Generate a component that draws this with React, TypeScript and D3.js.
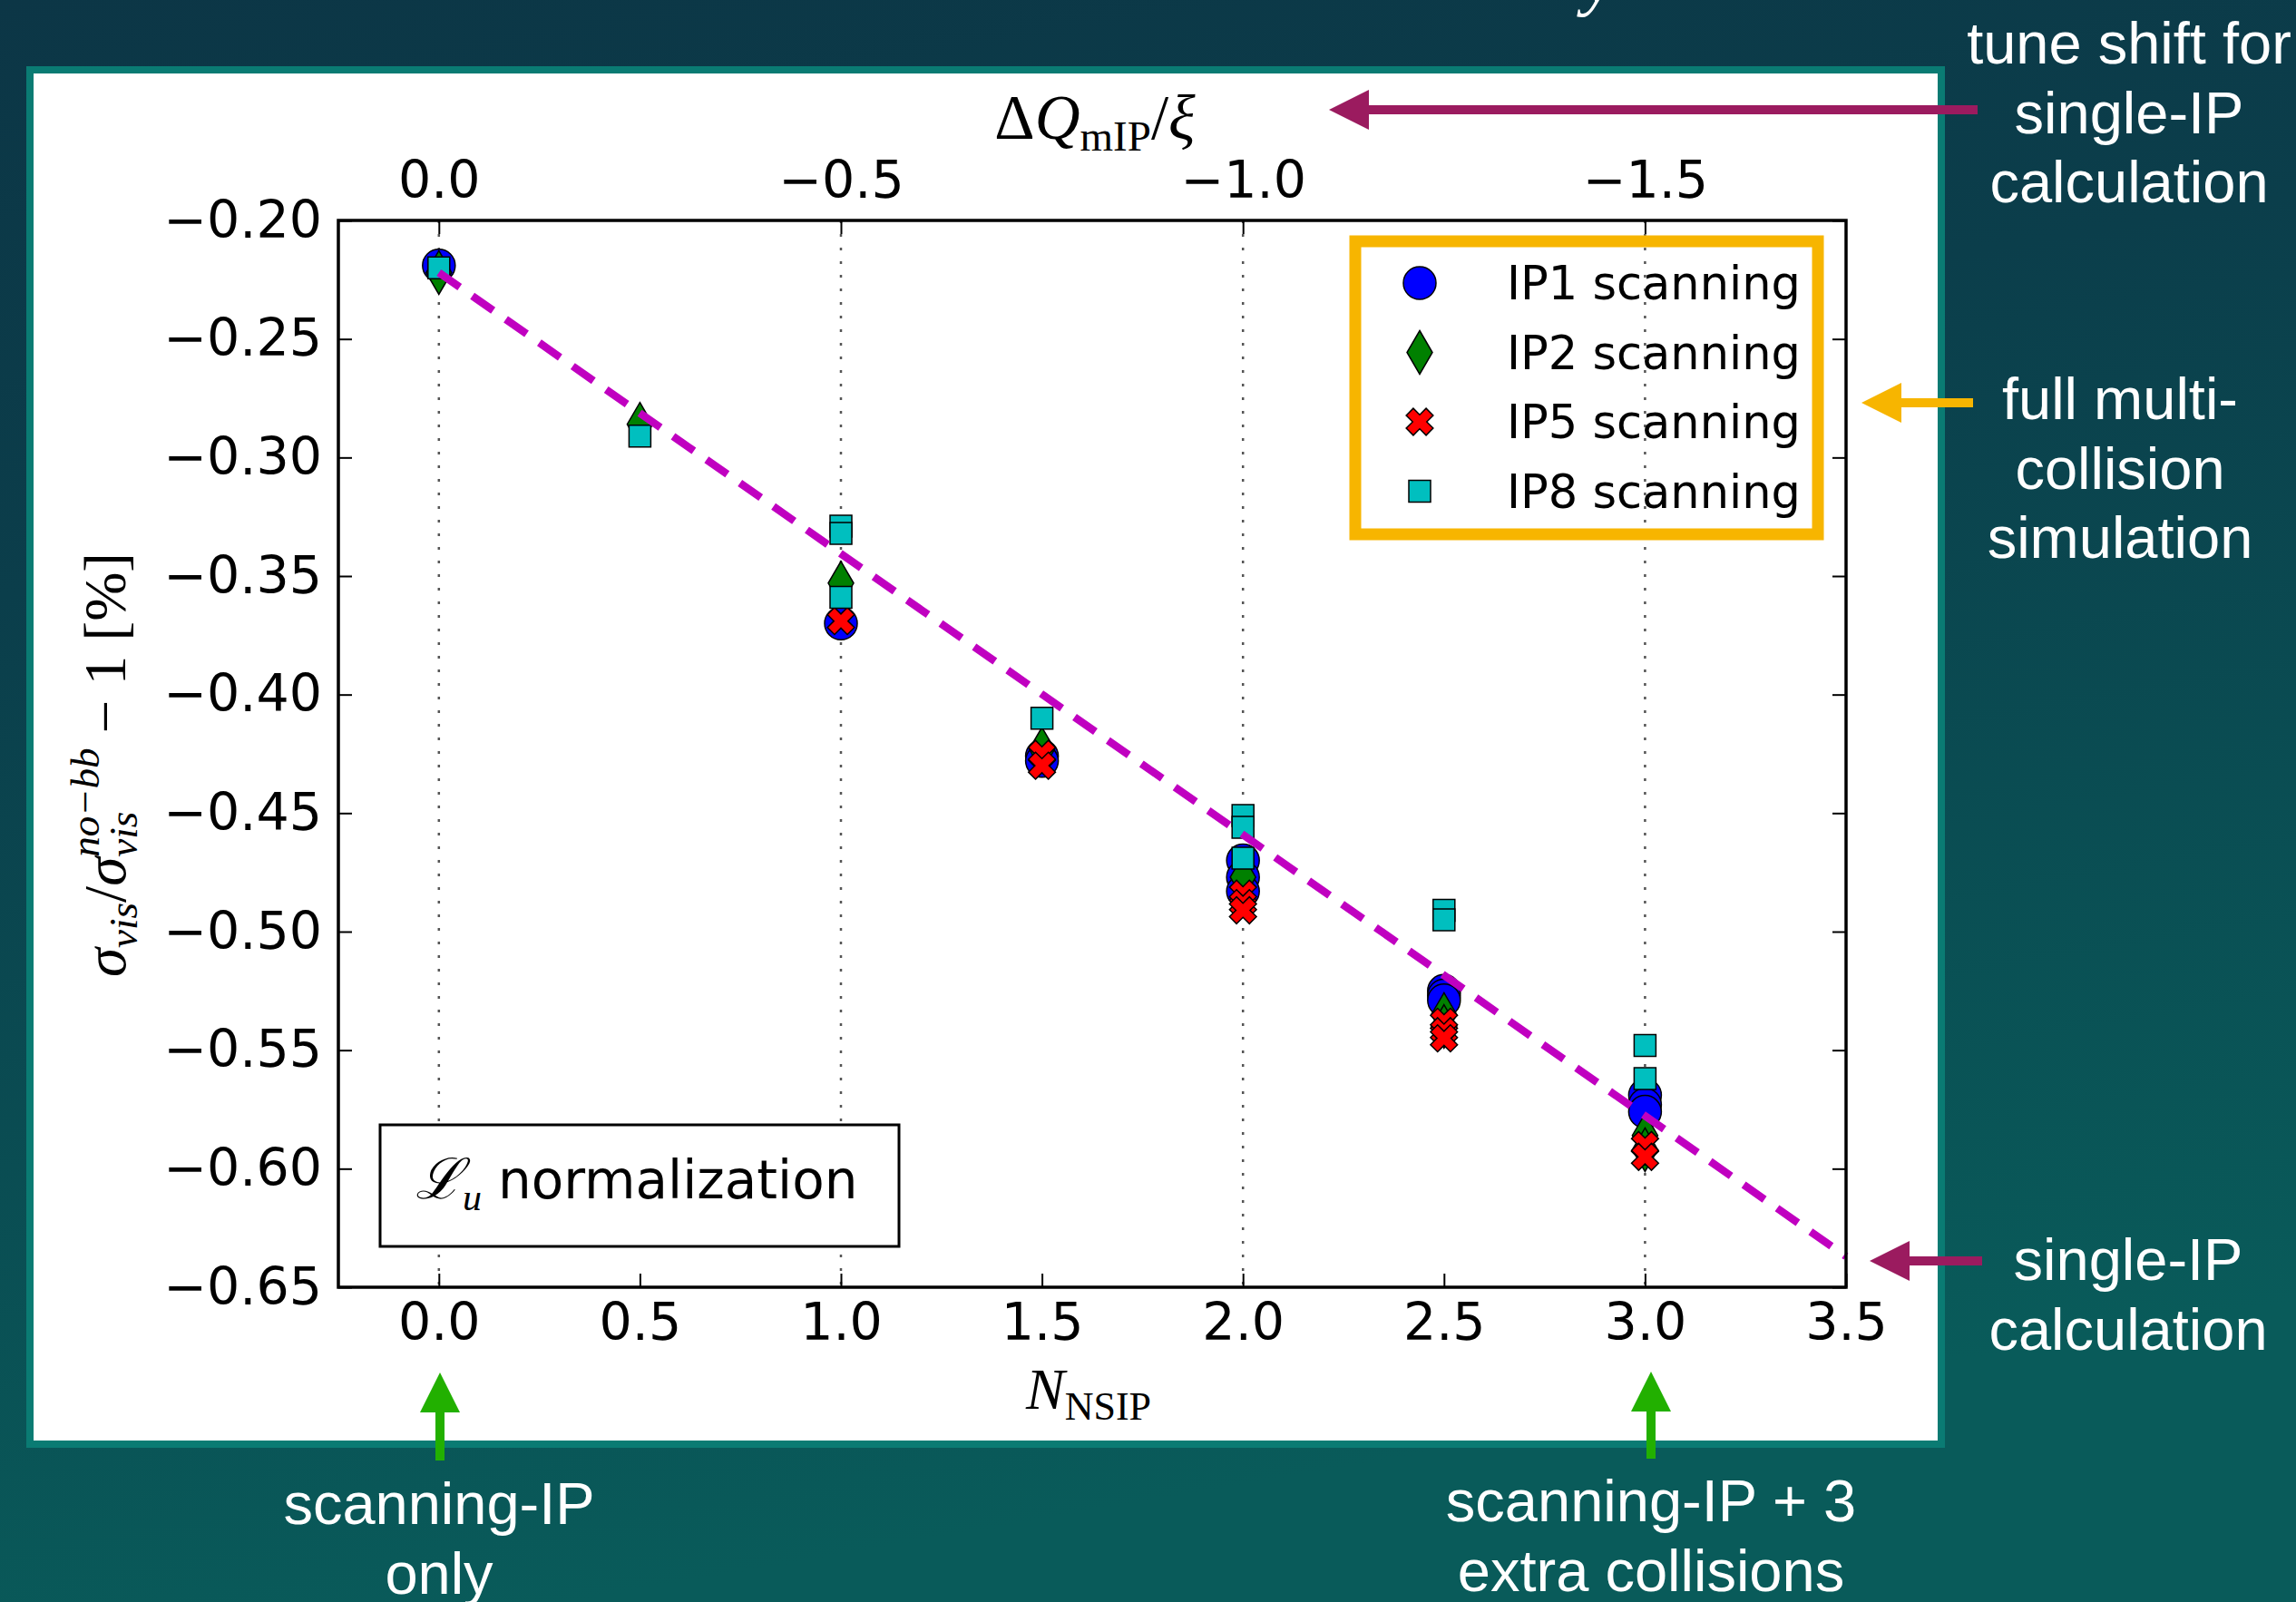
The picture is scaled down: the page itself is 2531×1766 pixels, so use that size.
import {
  axisBottom,
  axisLeft,
  axisRight,
  axisTop,
  format,
  line,
  scaleLinear,
  select,
  symbol,
  symbolCircle,
} from "d3";
import { useEffect, useRef } from "react";

const W = 2531;
const H = 1766;

// bottom axis: number of non-scanning IPs, top axis: tune shift
const nsipTicks = [0, 0.5, 1, 1.5, 2, 2.5, 3, 3.5];
const tuneTicks = [0, -0.5, -1.0, -1.5];
const yTicks = [-0.2, -0.25, -0.3, -0.35, -0.4, -0.45, -0.5, -0.55, -0.6, -0.65];

const ip1X = [0, 1, 1.5, 1.5, 2, 2, 2, 2.5, 2.5, 2.5, 3, 3, 3];
const ip1Y = [-0.219, -0.37, -0.426, -0.428, -0.47, -0.477, -0.483, -0.525, -0.527, -0.529, -0.569, -0.573, -0.576];

const ip2X = [0, 0.5, 1, 1.5, 2, 2.5, 2.5, 3, 3];
const ip2Y = [-0.222, -0.286, -0.353, -0.423, -0.477, -0.535, -0.54, -0.586, -0.592];

const ip5X = [1, 1.5, 1.5, 2, 2, 2, 2.5, 2.5, 2.5, 3, 3];
const ip5Y = [-0.369, -0.425, -0.43, -0.484, -0.488, -0.491, -0.538, -0.542, -0.545, -0.59, -0.595];

const ip8X = [0, 0.5, 1, 1, 1, 1.5, 2, 2, 2, 2.5, 2.5, 3, 3];
const ip8Y = [-0.22, -0.291, -0.329, -0.332, -0.359, -0.41, -0.451, -0.456, -0.469, -0.491, -0.495, -0.548, -0.562];

// single-IP calculation (dashed line)
const singleIpX = [0, 3.5];
const singleIpY = [-0.222, -0.637];

const seriesLabels = ["IP1 scanning", "IP2 scanning", "IP5 scanning", "IP8 scanning"];

const TICK_FONT = "'DejaVu Sans', sans-serif";
const MATH_FONT = "'Liberation Serif', 'DejaVu Serif', serif";
const NOTE_FONT = "'Liberation Sans', Arial, sans-serif";

const xPath = () => {
  const L = 15.5;
  const w = 5.5;
  const pts = [
    [w, L], [w, w], [L, w], [L, -w], [w, -w], [w, -L],
    [-w, -L], [-w, -w], [-L, -w], [-L, w], [-w, w], [-w, L],
  ];
  const c = Math.SQRT1_2;
  return (
    "M" +
    pts.map(([a, b]) => `${((a - b) * c).toFixed(2)},${((a + b) * c).toFixed(2)}`).join("L") +
    "Z"
  );
};

const markerPath = (kind: string) => {
  if (kind === "circle") return symbol(symbolCircle, Math.PI * 18 * 18)() as string;
  if (kind === "square") return "M-12,-12H12V12H-12Z";
  if (kind === "diamond") return "M0,-24L14,0L0,24L-14,0Z";
  return xPath();
};

const draw = (el: SVGGElement) => {
  const g = select(el);
  g.selectAll("*").remove();

  const x = scaleLinear().domain([-0.25, 3.5]).range([373, 2035]);
  const xTop = scaleLinear().domain([0.125, -1.75]).range([373, 2035]);
  const y = scaleLinear().domain([-0.2, -0.65]).range([243, 1419]);
  const [x0, x1] = x.range();
  const [y0, y1] = y.range();

  const series = [
    { label: seriesLabels[0], xs: ip1X, ys: ip1Y, kind: "circle", fill: "#0000ff" },
    { label: seriesLabels[1], xs: ip2X, ys: ip2Y, kind: "diamond", fill: "#008000" },
    { label: seriesLabels[2], xs: ip5X, ys: ip5Y, kind: "x", fill: "#ff0000" },
    { label: seriesLabels[3], xs: ip8X, ys: ip8Y, kind: "square", fill: "#00bfbf" },
  ];

  // vertical dotted grid from the tune shift axis
  g.append("g")
    .selectAll("line")
    .data(tuneTicks)
    .enter()
    .append("line")
    .attr("x1", (d) => xTop(d))
    .attr("x2", (d) => xTop(d))
    .attr("y1", y0)
    .attr("y2", y1)
    .attr("stroke", "#555")
    .attr("stroke-width", 2.5)
    .attr("stroke-dasharray", "3 12");

  // markers
  series.forEach((s) => {
    g.append("g")
      .selectAll("path")
      .data(s.xs.map((v, i) => [v, s.ys[i]]))
      .enter()
      .append("path")
      .attr("d", markerPath(s.kind))
      .attr("transform", (d) => `translate(${x(d[0])},${y(d[1])})`)
      .attr("fill", s.fill)
      .attr("stroke", "#000")
      .attr("stroke-width", 1.5);
  });

  // single-IP calculation
  const ln = line<number>()
    .x((d) => x(d))
    .y((_, i) => y(singleIpY[i]));
  g.append("path")
    .attr("d", ln(singleIpX))
    .attr("fill", "none")
    .attr("stroke", "#c000c0")
    .attr("stroke-width", 8.5)
    .attr("stroke-dasharray", "28 17");

  // axes
  const styleAxis = (a: any) => {
    a.select(".domain").remove();
    a.selectAll(".tick line").attr("stroke", "#000").attr("stroke-width", 2);
    a.selectAll(".tick text")
      .attr("fill", "#000")
      .attr("font-family", TICK_FONT)
      .attr("font-size", 57);
  };

  g.append("g")
    .attr("transform", `translate(0,${y1})`)
    .call(
      axisBottom(x)
        .tickValues(nsipTicks)
        .tickFormat(format(".1f") as any)
        .tickSizeInner(-15)
        .tickSizeOuter(0)
        .tickPadding(18)
    )
    .call(styleAxis);

  g.append("g")
    .attr("transform", `translate(0,${y0})`)
    .call(
      axisTop(xTop)
        .tickValues(tuneTicks)
        .tickFormat(format(".1f") as any)
        .tickSizeInner(-15)
        .tickSizeOuter(0)
        .tickPadding(25)
    )
    .call(styleAxis);

  g.append("g")
    .attr("transform", `translate(${x0},0)`)
    .call(
      axisLeft(y)
        .tickValues(yTicks)
        .tickFormat(format(".2f") as any)
        .tickSizeInner(-15)
        .tickSizeOuter(0)
        .tickPadding(18)
    )
    .call(styleAxis);

  g.append("g")
    .attr("transform", `translate(${x1},0)`)
    .call(
      axisRight(y)
        .tickValues(yTicks)
        .tickFormat(() => "")
        .tickSizeInner(-15)
        .tickSizeOuter(0)
    )
    .call(styleAxis);

  g.append("rect")
    .attr("x", x0)
    .attr("y", y0)
    .attr("width", x1 - x0)
    .attr("height", y1 - y0)
    .attr("fill", "none")
    .attr("stroke", "#000")
    .attr("stroke-width", 3.5);

  // legend
  const legend = g.append("g");
  legend
    .append("rect")
    .attr("x", 1494)
    .attr("y", 266)
    .attr("width", 510)
    .attr("height", 323)
    .attr("fill", "none")
    .attr("stroke", "#f7b500")
    .attr("stroke-width", 13);
  series.forEach((s, i) => {
    const ry = 312 + i * 76.5;
    legend
      .append("path")
      .attr("d", markerPath(s.kind))
      .attr("transform", `translate(1565,${ry})`)
      .attr("fill", s.fill)
      .attr("stroke", "#000")
      .attr("stroke-width", 1.5);
    legend
      .append("text")
      .attr("x", 1661)
      .attr("y", ry + 18)
      .attr("font-family", TICK_FONT)
      .attr("font-size", 51)
      .attr("fill", "#000")
      .text(s.label);
  });

  // normalization box
  g.append("rect")
    .attr("x", 419)
    .attr("y", 1240)
    .attr("width", 572)
    .attr("height", 134)
    .attr("fill", "#fff")
    .attr("stroke", "#000")
    .attr("stroke-width", 3);
  const nt = g.append("text").attr("y", 1321).attr("fill", "#000");
  nt.append("tspan")
    .attr("x", 458)
    .attr("font-family", MATH_FONT)
    .attr("font-style", "italic")
    .attr("font-size", 62)
    .text("ℒ");
  nt.append("tspan")
    .attr("dy", 13)
    .attr("font-family", MATH_FONT)
    .attr("font-style", "italic")
    .attr("font-size", 42)
    .text("u");
  nt.append("tspan")
    .attr("x", 549)
    .attr("dy", -13)
    .attr("font-family", TICK_FONT)
    .attr("font-size", 58)
    .text("normalization");
};

const Arrow = ({
  x1,
  y1,
  x2,
  y2,
  color,
  width = 10,
  head = 44,
  half = 22,
}: {
  x1: number;
  y1: number;
  x2: number;
  y2: number;
  color: string;
  width?: number;
  head?: number;
  half?: number;
}) => {
  const dx = x2 - x1;
  const dy = y2 - y1;
  const len = Math.hypot(dx, dy);
  const ux = dx / len;
  const uy = dy / len;
  const bx = x2 - ux * head;
  const by = y2 - uy * head;
  const px = -uy;
  const py = ux;
  return (
    <g>
      <line x1={x1} y1={y1} x2={bx + ux * 2} y2={by + uy * 2} stroke={color} strokeWidth={width} />
      <polygon
        points={`${x2},${y2} ${bx + px * half},${by + py * half} ${bx - px * half},${by - py * half}`}
        fill={color}
      />
    </g>
  );
};

const Note = ({ x, y, lines }: { x: number; y: number; lines: string[] }) => (
  <text x={x} y={y} fill="#fff" fontFamily={NOTE_FONT} fontSize={65} textAnchor="middle">
    {lines.map((l, i) => (
      <tspan key={i} x={x} dy={i === 0 ? 0 : 76.5}>
        {l}
      </tspan>
    ))}
  </text>
);

export default function App() {
  const ref = useRef<SVGGElement>(null);
  useEffect(() => {
    document.body.style.margin = "0";
    if (!ref.current) return;
    draw(ref.current);
  }, []);

  return (
    <svg width={W} height={H} style={{ display: "block" }}>
      <defs>
        <linearGradient id="bg" x1="0" y1="0" x2="0.25" y2="1">
          <stop offset="0" stopColor="#0c3646" />
          <stop offset="0.35" stopColor="#0b3e4b" />
          <stop offset="1" stopColor="#095b5a" />
        </linearGradient>
      </defs>
      <rect width={W} height={H} fill="url(#bg)" />
      <text x={1745} y={2} fill="#fff" fontFamily={MATH_FONT} fontStyle="italic" fontSize={80}>
        y
      </text>

      <rect x={33} y={77} width={2107} height={1515} fill="#fff" stroke="#0a7b73" strokeWidth={8} />

      {/* axis titles */}
      <text x={1207} y={153} fontFamily={MATH_FONT} fontSize={69} textAnchor="middle" fill="#000">
        <tspan>Δ</tspan>
        <tspan fontStyle="italic">Q</tspan>
        <tspan fontSize={47} dy={13}>mIP</tspan>
        <tspan dy={-13}>/</tspan>
        <tspan fontStyle="italic">ξ</tspan>
      </text>
      <text x={1200} y={1553} fontFamily={MATH_FONT} fontSize={64} textAnchor="middle" fill="#000">
        <tspan fontStyle="italic">N</tspan>
        <tspan fontSize={44} dy={12}>NSIP</tspan>
      </text>
      <text
        transform="translate(138,843) rotate(-90)"
        fontFamily={MATH_FONT}
        fontSize={65}
        textAnchor="middle"
        fill="#000"
      >
        <tspan fontStyle="italic">σ</tspan>
        <tspan fontStyle="italic" fontSize={45} dy={13}>vis</tspan>
        <tspan dy={-13}>/</tspan>
        <tspan fontStyle="italic">σ</tspan>
        <tspan fontStyle="italic" fontSize={45} dy={13}>vis</tspan>
        <tspan fontStyle="italic" fontSize={45} dx={-50} dy={-42}>no−bb</tspan>
        <tspan dy={29}> − 1 [%]</tspan>
      </text>

      <g ref={ref} />

      {/* annotations */}
      <Arrow x1={2180} y1={121} x2={1465} y2={121} color="#9b1b5f" />
      <Note x={2347} y={70} lines={["tune shift for", "single-IP", "calculation"]} />
      <Arrow x1={2175} y1={444} x2={2052} y2={444} color="#f7b500" />
      <Note x={2337} y={462} lines={["full multi-", "collision", "simulation"]} />
      <Arrow x1={2185} y1={1390} x2={2061} y2={1390} color="#9b1b5f" />
      <Note x={2346} y={1411} lines={["single-IP", "calculation"]} />
      <Arrow x1={485} y1={1610} x2={485} y2={1513} color="#22b000" />
      <Note x={484} y={1680} lines={["scanning-IP", "only"]} />
      <Arrow x1={1820} y1={1608} x2={1820} y2={1512} color="#22b000" />
      <Note x={1820} y={1677} lines={["scanning-IP + 3", "extra collisions"]} />
    </svg>
  );
}
